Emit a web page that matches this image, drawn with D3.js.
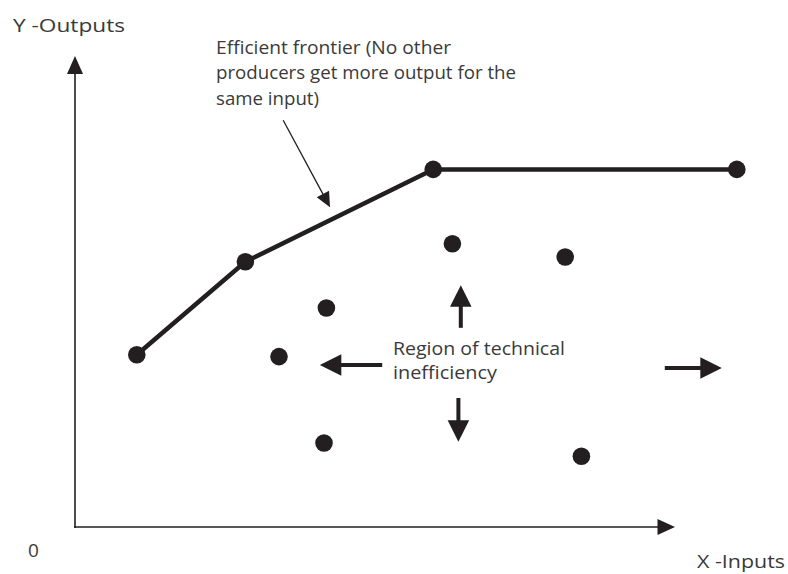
<!DOCTYPE html>
<html>
<head>
<meta charset="utf-8">
<script src="https://cdn.jsdelivr.net/npm/d3@7"></script>
<style>
  body { margin: 0; background: #fff; }
  .frontier_chart text { font-family: "Open Sans", sans-serif; font-size: 19px; fill: #3a3a3a; }
</style>
</head>
<body>
<div class="frontier_chart"></div>
<script>
// efficient frontier (data units)
var frontierX = [10.3, 28.4, 59.7, 110.3];
var frontierY = [28.7, 44.2, 59.6, 59.6];

// inefficient producers
var producerX = [41.9, 34.0, 62.9, 81.7, 41.5, 84.4];
var producerY = [36.5, 28.4, 47.2, 45.0, 14.0, 11.8];

// arrows pointing out of the inefficient region: x1, y1, x2 (tip), y2 (tip)
var regionArrowX1 = [51.2, 64.3, 63.9, 98.3];
var regionArrowY1 = [27.0, 33.2, 21.5, 26.5];
var regionArrowX2 = [40.8, 64.3, 63.9, 107.8];
var regionArrowY2 = [27.0, 40.3, 14.2, 26.5];

// pointer from the annotation to the frontier
var pointerFrom = [34.7, 67.8];
var pointerTo = [42.5, 53.3];

var axisEndX = 100;
var axisEndY = 78.5;

var annotationLines = ["Efficient frontier (No other", "producers get more output for the", "same input)"];
var regionLines = ["Region of technical", "inefficiency"];
var yLabel = "Y -Outputs";
var xLabel = "X -Inputs";
var originLabel = "0";

var width = 788, height = 574;
var ink = "#231f20";

var svg = d3.select(".frontier_chart")
  .append("svg")
    .attr("width", width)
    .attr("height", height);

var x = d3.scaleLinear().domain([0, 100]).range([75, 675]);
var y = d3.scaleLinear().domain([0, 80]).range([527, 47]);

// line with a filled triangular head at (x2, y2), all in pixels
function drawArrow(g, x1, y1, x2, y2, headLen, headHalf, strokeW) {
  var dx = x2 - x1, dy = y2 - y1;
  var len = Math.sqrt(dx * dx + dy * dy);
  var ux = dx / len, uy = dy / len;
  var bx = x2 - ux * headLen, by = y2 - uy * headLen;
  g.append("line")
    .attr("x1", x1).attr("y1", y1)
    .attr("x2", bx + ux).attr("y2", by + uy)
    .attr("stroke", ink)
    .attr("stroke-width", strokeW);
  g.append("path")
    .attr("d", "M" + x2 + "," + y2 +
               "L" + (bx - uy * headHalf) + "," + (by + ux * headHalf) +
               "L" + (bx + uy * headHalf) + "," + (by - ux * headHalf) + "Z")
    .attr("fill", ink);
}

// axes
var axes = svg.append("g").attr("class", "axes");
axes.append("line")
  .attr("x1", x(0)).attr("y1", y(0))
  .attr("x2", x(0)).attr("y2", y(0) + 0.75)
  .attr("stroke", ink).attr("stroke-width", 1.5);
drawArrow(axes, x(0) - 0.75, y(0), x(axisEndX), y(0), 17.5, 8, 1.6);
drawArrow(axes, x(0), y(0) + 0.75, x(0), y(axisEndY), 18, 8, 1.6);

svg.append("text")
  .attr("x", 13).attr("y", 32)
  .attr("textLength", 112).attr("lengthAdjust", "spacingAndGlyphs")
  .text(yLabel);
svg.append("text")
  .attr("x", 697).attr("y", 568)
  .attr("textLength", 88).attr("lengthAdjust", "spacingAndGlyphs")
  .text(xLabel);
svg.append("text")
  .attr("x", 28).attr("y", 557)
  .text(originLabel);

// frontier
var frontier = frontierX.map(function(d, i) { return [d, frontierY[i]]; });
svg.append("path")
  .datum(frontier)
  .attr("fill", "none")
  .attr("stroke", ink)
  .attr("stroke-width", 4.5)
  .attr("stroke-linejoin", "round")
  .attr("d", d3.line()
    .x(function(d) { return x(d[0]); })
    .y(function(d) { return y(d[1]); }));

svg.selectAll(".frontier_dot")
  .data(frontier)
  .enter().append("circle")
    .attr("class", "frontier_dot")
    .attr("cx", function(d) { return x(d[0]); })
    .attr("cy", function(d) { return y(d[1]); })
    .attr("r", 8.8)
    .attr("fill", ink);

// producers off the frontier
svg.selectAll(".producer_dot")
  .data(producerX)
  .enter().append("circle")
    .attr("class", "producer_dot")
    .attr("cx", function(d) { return x(d); })
    .attr("cy", function(d, i) { return y(producerY[i]); })
    .attr("r", 8.8)
    .attr("fill", ink);

// region arrows
var arrows = svg.append("g").attr("class", "region_arrows");
for (var i = 0; i < regionArrowX1.length; i++) {
  drawArrow(arrows, x(regionArrowX1[i]), y(regionArrowY1[i]),
            x(regionArrowX2[i]), y(regionArrowY2[i]), 21.5, 10.8, 4);
}

// annotation pointer
drawArrow(svg.append("g"), x(pointerFrom[0]), y(pointerFrom[1]),
          x(pointerTo[0]), y(pointerTo[1]), 15, 7, 1.3);

// texts
var annotationWidths = [235, 300, 103];
var annotationBase = [54, 79, 105];
svg.selectAll(".annotation")
  .data(annotationLines)
  .enter().append("text")
    .attr("class", "annotation")
    .attr("x", 216)
    .attr("y", function(d, i) { return annotationBase[i]; })
    .attr("textLength", function(d, i) { return annotationWidths[i]; })
    .attr("lengthAdjust", "spacingAndGlyphs")
    .text(function(d) { return d; });

var regionWidths = [172, 104];
var regionBase = [355, 379];
svg.selectAll(".region_label")
  .data(regionLines)
  .enter().append("text")
    .attr("class", "region_label")
    .attr("x", 393)
    .attr("y", function(d, i) { return regionBase[i]; })
    .attr("textLength", function(d, i) { return regionWidths[i]; })
    .attr("lengthAdjust", "spacingAndGlyphs")
    .text(function(d) { return d; });
</script>
</body>
</html>
